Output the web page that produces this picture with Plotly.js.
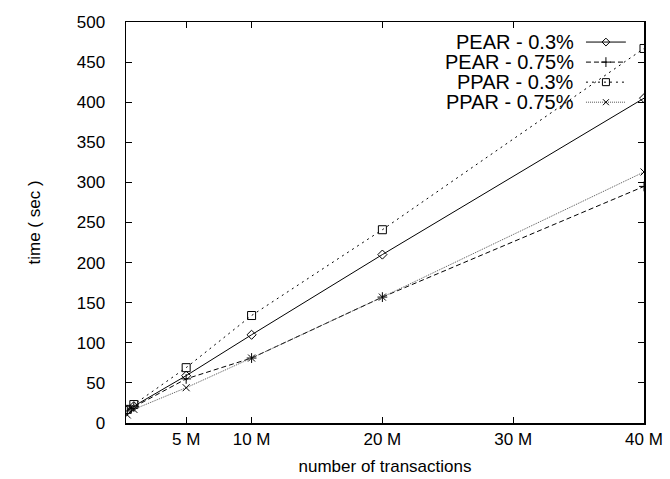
<!DOCTYPE html>
<html>
<head>
<meta charset="utf-8">
<script src="https://cdn.plot.ly/plotly-3.0.1.min.js"></script>
<style>html,body{margin:0;padding:0;background:#fff;}#chart{width:670px;height:479px;}</style>
</head>
<body>
<div id="chart"></div>
<script>
// data (x in millions of transactions, y in seconds)
const transactions = [0.5, 1, 5, 10, 20, 40];
const pear03  = [16, 21, 59, 110, 210, 405];
const pear075 = [15, 20, 55, 81, 157, 295];
const ppar03  = [17, 23, 69, 134, 241, 467];
const ppar075 = [10, 17, 44, 81, 157, 313];
const seriesNames = ['PEAR - 0.3%', 'PEAR - 0.75%', 'PPAR - 0.3%', 'PPAR - 0.75%'];
const xTickVals = [5, 10, 20, 30, 40];
const xTickText = ['5 M', '10 M', '20 M', '30 M', '40 M'];

const styles = [
  {line: {color: '#000', width: 1, dash: 'solid'}, marker: {symbol: 'diamond-open', size: 7, color: '#000', line: {width: 1}}},
  {line: {color: '#000', width: 1, dash: '5px,3px'}, marker: {symbol: 'cross-thin-open', size: 7, color: '#000', line: {width: 1}}},
  {line: {color: '#000', width: 1, dash: '2px,4px'}, marker: {symbol: 'square-open', size: 8, color: '#000', line: {width: 1}}},
  {line: {color: '#555', width: 1, dash: '1px,1px'}, marker: {symbol: 'x-thin-open', size: 7, color: '#000', line: {width: 1}}}
];
const keyMarkerSize = [6, 7, 7, 6];
const allY = [pear03, pear075, ppar03, ppar075];

const traces = allY.map((ys, i) => ({
  x: transactions, y: ys, type: 'scatter', mode: 'lines+markers',
  name: seriesNames[i], line: styles[i].line, marker: styles[i].marker, showlegend: false
}));

// custom legend keys (text left of sample, gnuplot style)
const keyY = [0.95, 0.90, 0.85, 0.80];
const annotations = [];
seriesNames.forEach((n, i) => {
  traces.push({x: [0.888, 0.965], y: [keyY[i], keyY[i]], xaxis: 'x2', yaxis: 'y2', type: 'scatter', mode: 'lines',
    line: styles[i].line, showlegend: false, hoverinfo: 'skip'});
  traces.push({x: [0.9265], y: [keyY[i]], xaxis: 'x2', yaxis: 'y2', type: 'scatter', mode: 'markers',
    marker: Object.assign({}, styles[i].marker, {size: keyMarkerSize[i]}), showlegend: false, hoverinfo: 'skip'});
  annotations.push({xref: 'paper', yref: 'paper', x: 0.868, y: keyY[i], xanchor: 'right', yanchor: 'middle',
    text: n, showarrow: false, font: {family: 'Liberation Sans, Arial, sans-serif', size: 20, color: '#000'}});
});

const font = {family: 'Liberation Sans, Arial, sans-serif', size: 17, color: '#000'};
const layout = {
  width: 670, height: 479,
  margin: {l: 126, r: 26, t: 22, b: 56},
  paper_bgcolor: '#fff', plot_bgcolor: '#fff',
  font: font,
  showlegend: false,
  xaxis: {
    range: [0.4, 40], tickvals: xTickVals, ticktext: xTickText,
    ticks: 'inside', ticklen: 6, tickcolor: '#000', tickwidth: 1,
    showline: true, linecolor: '#000', linewidth: 1.5, mirror: 'ticks',
    showgrid: false, zeroline: false, tickfont: font,
    title: {text: 'number of transactions', font: font, standoff: 12}
  },
  yaxis: {
    range: [0, 500], dtick: 50, tick0: 0,
    ticks: 'inside', ticklen: 6, tickcolor: '#000', tickwidth: 1,
    showline: true, linecolor: '#000', linewidth: 1.5, mirror: 'ticks',
    showgrid: false, zeroline: false, tickfont: font, ticklabelstandoff: 16,
    title: {text: 'time ( sec )', font: font, standoff: 32}
  },
  xaxis2: {overlaying: 'x', range: [0, 1], visible: false, fixedrange: true},
  yaxis2: {overlaying: 'y', range: [0, 1], visible: false, fixedrange: true},
  annotations: annotations
};
Plotly.newPlot('chart', traces, layout, {displayModeBar: false, staticPlot: true});
</script>
</body>
</html>
